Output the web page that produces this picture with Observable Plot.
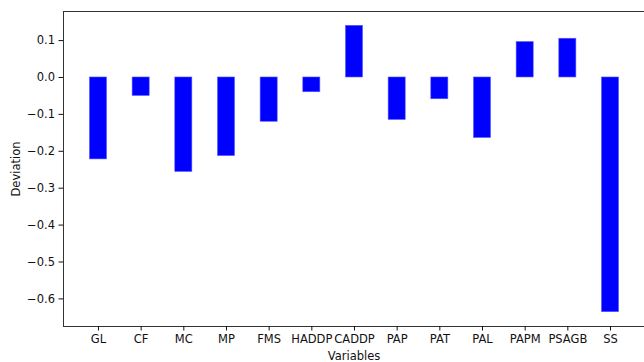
<!DOCTYPE html>
<html>
<head>
<meta charset="utf-8">
<script src="https://cdn.jsdelivr.net/npm/d3@7"></script>
<script src="https://cdn.jsdelivr.net/npm/@observablehq/plot@0.6"></script>
<style>
  html, body { margin: 0; padding: 0; background: white; }
</style>
</head>
<body>
<div id="chart"></div>
<script>
const variables = ["GL", "CF", "MC", "MP", "FMS", "HADDP", "CADDP", "PAP", "PAT", "PAL", "PAPM", "PSAGB", "SS"];
const deviations = [-0.222, -0.050, -0.256, -0.213, -0.120, -0.040, 0.140, -0.115, -0.059, -0.164, 0.096, 0.105, -0.636];
const yTicks = [-0.6, -0.5, -0.4, -0.3, -0.2, -0.1, 0.0, 0.1];

const data = variables.map((v, i) => ({variable: v, deviation: deviations[i]}));

const lo = Math.min(0, d3.min(deviations));
const hi = Math.max(0, d3.max(deviations));
const pad = (hi - lo) * 0.05;

const chart = Plot.plot({
  width: 644,
  height: 362,
  marginLeft: 63,
  marginRight: 0,
  marginTop: 11,
  marginBottom: 36,
  style: {fontFamily: "DejaVu Sans", fontSize: "11.5px", color: "#111", background: "white"},
  x: {domain: variables, range: [63, 645], round: false, paddingInner: 0.6, paddingOuter: 0.62, align: 0.5},
  y: {domain: [lo - pad, hi + pad]},
  marks: [
    Plot.barY(data, {x: "variable", y: "deviation", fill: "#0000ff", stroke: "#5a5aff", strokeWidth: 0.6}),
    Plot.frame({anchor: "left", stroke: "#333", strokeWidth: 1}),
    Plot.frame({anchor: "top", stroke: "#333", strokeWidth: 1}),
    Plot.frame({anchor: "bottom", stroke: "#333", strokeWidth: 1}),
    Plot.axisY({ticks: yTicks, tickFormat: d3.format(".1f"), tickSize: 4.5, tickPadding: 4, label: "Deviation", labelArrow: "none", labelAnchor: "center", labelOffset: 52, fontSize: 11.5}),
    Plot.axisX({tickSize: 4.5, tickPadding: 4, label: "Variables", labelArrow: "none", labelAnchor: "center", labelOffset: 33, fontSize: 11.5})
  ]
});
document.getElementById("chart").appendChild(chart);
</script>
</body>
</html>
